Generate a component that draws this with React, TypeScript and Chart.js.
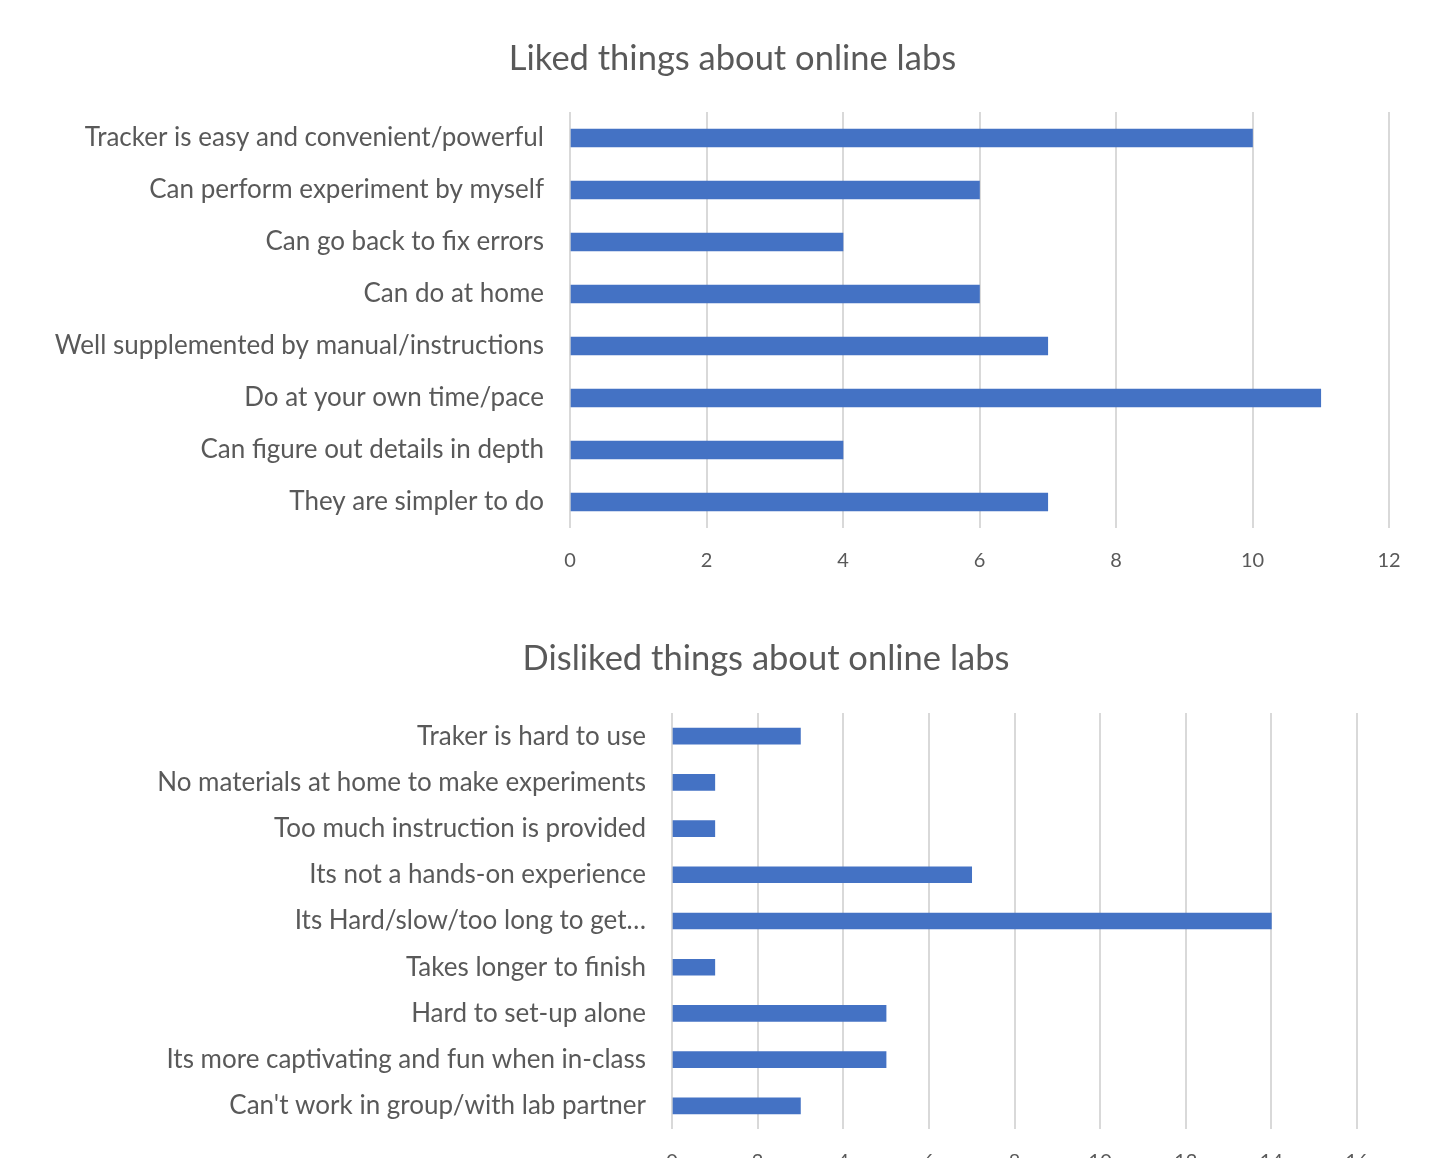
import React, { useEffect, useRef } from "react";
import { Chart, registerables } from "chart.js";

Chart.register(...registerables);

const likedTitle = "Liked things about online labs";
const likedLabels = [
  "Tracker is easy and convenient/powerful",
  "Can perform experiment by myself",
  "Can go back to fix errors",
  "Can do at home",
  "Well supplemented by manual/instructions",
  "Do at your own time/pace",
  "Can figure out details in depth",
  "They are simpler to do",
];
const likedValues = [10, 6, 4, 6, 7, 11, 4, 7];
const likedMax = 12;

const dislikedTitle = "Disliked things about online labs";
const dislikedLabels = [
  "Traker is hard to use",
  "No materials at home to make experiments",
  "Too much instruction is provided",
  "Its not a hands-on experience",
  "Its Hard/slow/too long to get…",
  "Takes longer to finish",
  "Hard to set-up alone",
  "Its more captivating and fun when in-class",
  "Can't work in group/with lab partner",
];
const dislikedValues = [3, 1, 1, 7, 14, 1, 5, 5, 3];
const dislikedMax = 16;

const tickStep = 2;

const FONT = "Lato, 'Open Sans', sans-serif";
const TEXT = "#595959";
const BAR = "#4472C4";
const GRID = "#D9D9D9";

type Props = {
  title: string;
  labels: string[];
  values: number[];
  max: number;
  top: number;
  height: number;
  yWidth: number;
  xHeight: number;
  rightPad: number;
  bar: number;
  plotTop: number;
  titleX: number;
  titleY: number;
};

const W = 1439;

function HBar(p: Props) {
  const ref = useRef<HTMLCanvasElement | null>(null);
  useEffect(() => {
    if (!ref.current) return;
    const titlePlugin = {
      id: "ownTitle",
      afterDraw(chart: any) {
        const ctx = chart.ctx;
        ctx.save();
        ctx.fillStyle = TEXT;
        ctx.font = `34.5px ${FONT}`;
        ctx.textAlign = "center";
        ctx.textBaseline = "middle";
        ctx.fillText(p.title, p.titleX, p.titleY);
        ctx.restore();
      },
    };
    const chart = new Chart(ref.current, {
      type: "bar",
      data: {
        labels: p.labels,
        datasets: [
          {
            data: p.values,
            backgroundColor: BAR,
            borderWidth: 0,
            barThickness: p.bar,
          },
        ],
      },
      options: {
        indexAxis: "y",
        responsive: false,
        animation: false,
        layout: { padding: { top: p.plotTop, left: 0, right: p.rightPad, bottom: 0 } },
        plugins: {
          legend: { display: false },
          tooltip: { enabled: false },
          title: { display: false },
        },
        scales: {
          x: {
            min: 0,
            max: p.max,
            ticks: {
              stepSize: tickStep,
              color: TEXT,
              padding: 21,
              font: { family: FONT, size: 20 },
            },
            grid: { color: GRID, lineWidth: 2, drawTicks: false },
            border: { display: false },
            afterFit: (s: any) => {
              s.height = p.xHeight;
            },
          },
          y: {
            ticks: {
              color: TEXT,
              padding: 26,
              font: { family: FONT, size: 26 },
            },
            grid: { display: false, drawTicks: false },
            border: { display: false },
            afterFit: (s: any) => {
              s.width = p.yWidth;
            },
          },
        },
      },
      plugins: [titlePlugin],
    });
    return () => chart.destroy();
  }, []);
  return (
    <canvas
      ref={ref}
      width={W}
      height={p.height}
      style={{
        position: "absolute",
        left: 0,
        top: p.top,
        width: W,
        height: p.height,
      }}
    />
  );
}

export default function App() {
  return (
    <div
      style={{
        position: "absolute",
        left: 0,
        top: 0,
        width: 1439,
        height: 1158,
        overflow: "hidden",
        background: "#fff",
      }}
    >
      <HBar
        title={likedTitle}
        labels={likedLabels}
        values={likedValues}
        max={likedMax}
        top={0}
        height={600}
        yWidth={570}
        xHeight={72}
        rightPad={50}
        bar={18}
        plotTop={112}
        titleX={732.5}
        titleY={59}
      />
      <HBar
        title={dislikedTitle}
        labels={dislikedLabels}
        values={dislikedValues}
        max={dislikedMax}
        top={600}
        height={600}
        yWidth={672}
        xHeight={71}
        rightPad={82}
        bar={16}
        plotTop={113}
        titleX={766}
        titleY={59}
      />
    </div>
  );
}
